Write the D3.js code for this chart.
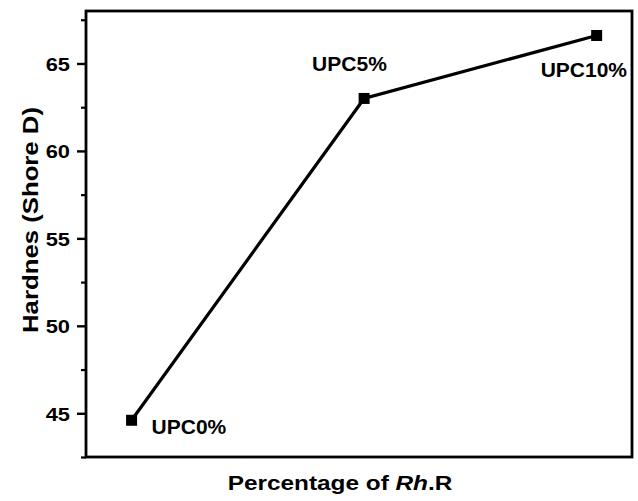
<!DOCTYPE html>
<html>
<head>
<meta charset="utf-8">
<script src="https://cdn.jsdelivr.net/npm/d3@7"></script>
<style>
  body { margin: 0; background: #fff; }
  text { font-family: Arial, "Liberation Sans", sans-serif; font-weight: bold; fill: #000; }
</style>
</head>
<body>
<div class="chart"></div>
<script>
// data
const samples = ["UPC0%", "UPC5%", "UPC10%"];
const percent = [0, 5, 10];
const hardness = [44.6, 63.0, 66.6];
const yTicks = [45, 50, 55, 60, 65];

const width = 638, height = 501;
const margin = {top: 11, right: 6, bottom: 44, left: 86};
const w = width - margin.left - margin.right,
      h = height - margin.top - margin.bottom;

const x = d3.scaleLinear().domain([-0.98, 10.76]).range([0, w]);
const y = d3.scaleLinear().domain([42.5, 68]).range([h, 0]);

const svg = d3.select(".chart").append("svg")
    .attr("width", width)
    .attr("height", height)
  .append("g")
    .attr("transform", "translate(" + margin.left + "," + margin.top + ")");

// stretch text horizontally like the original export
function stretch(sel, k) {
  sel.each(function() {
    const len = this.getComputedTextLength();
    d3.select(this).attr("textLength", len * k).attr("lengthAdjust", "spacingAndGlyphs");
  });
}

// minor ticks
svg.append("g")
    .call(d3.axisLeft(y).tickValues(d3.range(42.5, 68.1, 2.5).filter(v => v % 5 != 0)).tickSize(5).tickFormat(""))
    .call(g => g.select(".domain").remove())
    .selectAll("line").attr("stroke", "#000").attr("stroke-width", 2.2);

// major ticks
const yAxis = svg.append("g")
    .call(d3.axisLeft(y).tickValues(yTicks).tickSize(9).tickPadding(7))
    .call(g => g.select(".domain").remove());
yAxis.selectAll("line").attr("stroke", "#000").attr("stroke-width", 2.4);
yAxis.selectAll("text")
    .attr("font-size", null)
    .attr("font-family", null)
    .style("font-size", "19px")
    .attr("dy", "0.36em")
    .call(stretch, 1.15);

// frame
svg.append("rect")
    .attr("width", w)
    .attr("height", h)
    .attr("fill", "none")
    .attr("stroke", "#000")
    .attr("stroke-width", 2.8);

const pts = percent.map((p, i) => ({p: p, v: hardness[i], s: samples[i]}));

svg.append("path")
    .datum(pts)
    .attr("fill", "none")
    .attr("stroke", "#000")
    .attr("stroke-width", 3.2)
    .attr("d", d3.line().x(d => x(d.p)).y(d => y(d.v)));

svg.selectAll(".pt")
    .data(pts)
  .enter().append("rect")
    .attr("class", "pt")
    .attr("x", d => x(d.p) - 5.5)
    .attr("y", d => y(d.v) - 5.5)
    .attr("width", 11)
    .attr("height", 11)
    .attr("fill", "#000");

// sample labels
const offsets = [[20, 14], [-52, -27], [-56, 42]];
svg.selectAll(".lbl")
    .data(pts)
  .enter().append("text")
    .attr("class", "lbl")
    .attr("x", (d, i) => x(d.p) + offsets[i][0])
    .attr("y", (d, i) => y(d.v) + offsets[i][1])
    .style("font-size", "20px")
    .text(d => d.s)
    .call(stretch, 1.05);

// axis titles
const xt = svg.append("text")
    .attr("x", 254)
    .attr("y", h + 33)
    .attr("text-anchor", "middle")
    .style("font-size", "21px");
xt.append("tspan").text("Percentage of ");
xt.append("tspan").style("font-style", "italic").text("Rh");
xt.append("tspan").text(".R");
xt.call(stretch, 1.16);

svg.append("text")
    .attr("transform", "translate(-48," + 209 + ") rotate(-90)")
    .attr("text-anchor", "middle")
    .style("font-size", "22px")
    .text("Hardnes (Shore D)")
    .call(stretch, 1.17);
</script>
</body>
</html>
